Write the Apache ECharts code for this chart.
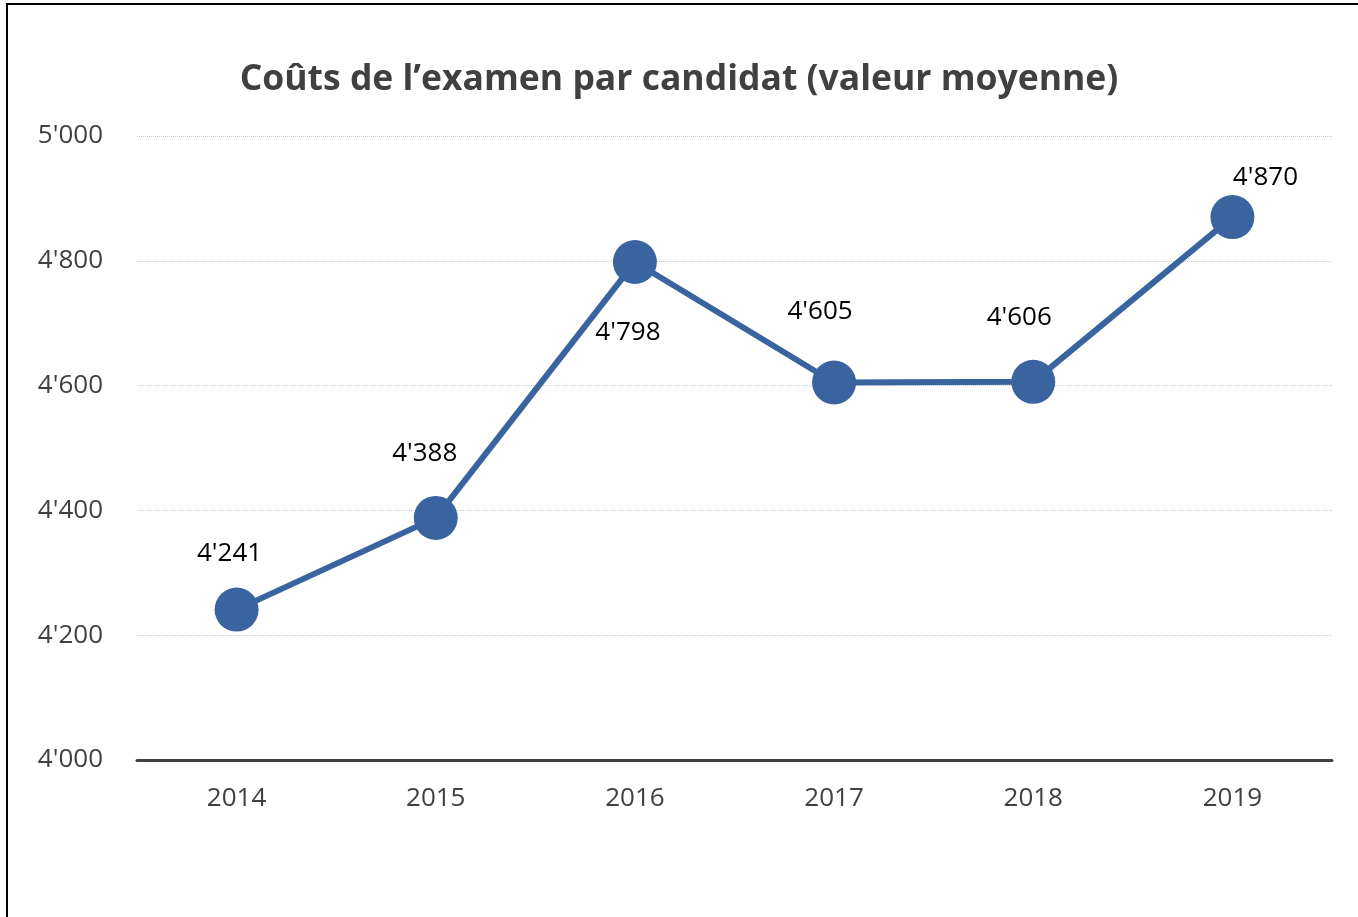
<!DOCTYPE html>
<html>
<head>
<meta charset="utf-8">
<script src="https://cdn.jsdelivr.net/npm/echarts@6/dist/echarts.min.js"></script>
<style>
  html, body { margin: 0; padding: 0; background: #fff; }
</style>
</head>
<body>
<div id="main" style="width: 1358px;height: 917px"></div>

<script type="text/javascript">
    // données du graphique
    var annees = ['2014', '2015', '2016', '2017', '2018', '2019'];
    var couts = [4241, 4388, 4798, 4605, 4606, 4870];
    var yTicks = [4000, 4200, 4400, 4600, 4800, 5000];

    // décalage des étiquettes (style seulement)
    var labelOffsets = [[-7, -56], [-11, -64], [-7, 71], [-14, -71], [-14, -64], [33, -40]];

    function fmt(v) {
        var s = String(Math.round(v));
        return s.replace(/\B(?=(\d{3})+(?!\d))/g, "'");
    }

    var myChart = echarts.init(document.getElementById('main'));

    var seriesData = couts.map(function (v, i) {
        return {
            value: v,
            label: { offset: labelOffsets[i] }
        };
    });

    var option = {
        animation: false,
        title: {
            text: 'Coûts de l’examen par candidat (valeur moyenne)',
            left: 'center',
            top: 57,
            textStyle: {
                fontFamily: 'Open Sans',
                fontWeight: 'bold',
                fontSize: 35.5,
                color: '#404040'
            }
        },
        graphic: [{
            type: 'rect',
            shape: { x: 7, y: 4, width: 1420, height: 1000 },
            style: { fill: 'none', stroke: '#000', lineWidth: 2 },
            silent: true
        }],
        grid: {
            left: 137,
            right: 26,
            top: 136,
            bottom: 157
        },
        xAxis: {
            type: 'category',
            data: annees,
            boundaryGap: true,
            axisLine: { lineStyle: { color: '#404040', width: 3 } },
            axisTick: { show: false },
            axisLabel: {
                margin: 26,
                fontFamily: 'Open Sans',
                fontSize: 26,
                color: '#404040'
            }
        },
        yAxis: {
            type: 'value',
            min: yTicks[0],
            max: yTicks[yTicks.length - 1],
            interval: 200,
            axisLine: { show: false },
            axisTick: { show: false },
            axisLabel: {
                margin: 34,
                fontFamily: 'Open Sans',
                fontSize: 26,
                color: '#404040',
                formatter: fmt
            },
            splitLine: {
                lineStyle: { color: '#c8c8c8', type: 'dotted', width: 1 }
            }
        },
        series: [{
            name: 'Coûts',
            type: 'line',
            data: seriesData,
            symbol: 'circle',
            symbolSize: 44,
            itemStyle: { color: '#3a64a0' },
            lineStyle: { color: '#3a64a0', width: 6 },
            label: {
                show: true,
                position: 'inside',
                fontFamily: 'Open Sans',
                fontSize: 26,
                color: '#000',
                formatter: function (p) { return fmt(p.value); }
            },
            z: 3
        }]
    };

    myChart.setOption(option);
</script>
</body>
</html>
